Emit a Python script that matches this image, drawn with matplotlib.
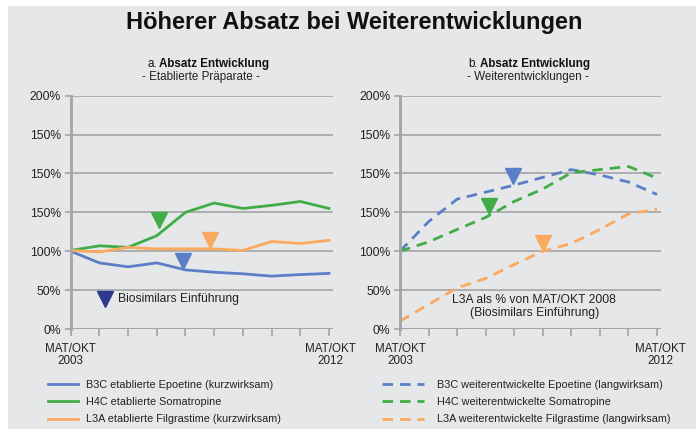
import numpy as np
import matplotlib
matplotlib.use("Agg")
import matplotlib.pyplot as plt
from matplotlib.patches import Rectangle

plt.rcParams['font.family'] = ['Liberation Sans', 'DejaVu Sans']

# ---- data (index 100 = start) ----
years = list(range(10))          # MAT/OKT 2003 .. 2012
ytick_vals = [0, 50, 100, 150, 200, 250, 300]
ytick_labels = ["0%", "50%", "100%", "150%", "150%", "150%", "200%"]

est_b3c = [100, 85, 80, 85, 76, 73, 71, 68, 70, 71.5]
est_h4c = [101, 107, 105, 120, 150, 162, 155, 159, 164, 155]
est_l3a = [101, 99, 105, 103, 103, 103, 101, 112.5, 110, 114]

new_b3c = [100, 138, 167, 176, 185, 195, 205, 198, 189, 173]
new_h4c = [100, 112, 128, 143.5, 164, 180, 201, 205, 209, 194]
new_l3a = [10, 31.5, 53, 65, 83, 100, 110, 128, 148, 154]

# biosimilar introduction markers (x, y)
mark_a = {"b3c": (3.9, 88), "h4c": (3.07, 140), "l3a": (4.87, 115)}
mark_b = {"b3c": (3.97, 197), "h4c": (3.11, 158), "l3a": (5.0, 111)}
legend_mark = (1.18, 39)

labels_a = ["B3C etablierte Epoetine (kurzwirksam)",
            "H4C etablierte Somatropine",
            "L3A etablierte Filgrastime (kurzwirksam)"]
labels_b = ["B3C weiterentwickelte Epoetine (langwirksam)",
            "H4C weiterentwickelte Somatropine",
            "L3A weiterentwickelte Filgrastime (langwirksam)"]

BLUE = "#5b7fc6"
GREEN = "#40ad48"
ORANGE = "#fba95e"
DARKBLUE = "#2e3a8f"
GRID = "#a3a4a6"
BG = "#e6e7e8"
TXT = "#222222"

W, H = 696, 429
fig = plt.figure(figsize=(W / 100, H / 100), dpi=100)
fig.patch.set_facecolor("white")
fig.patches.append(Rectangle((8 / W, 0), 1 - 8 / W, 1 - 6 / H, transform=fig.transFigure,
                             facecolor=BG, edgecolor="none", zorder=-10))

fig.text(354 / W, 1 - 22 / H, "Höherer Absatz bei Weiterentwicklungen",
         ha="center", va="center", fontsize=17, fontweight="bold", color="#111111")


def setup(ax):
    ax.set_facecolor("none")
    ax.set_xlim(0, 9.14)
    ax.set_ylim(0, 300)
    ax.set_yticks(ytick_vals)
    ax.set_yticklabels(ytick_labels)
    ax.set_xticks(years)
    ax.set_xticklabels([])
    for s in ["top", "right", "bottom"]:
        ax.spines[s].set_visible(False)
    ax.spines["left"].set_color(GRID)
    ax.spines["left"].set_linewidth(2)
    ax.grid(axis="y", color=GRID, linewidth=1.2)
    ax.set_axisbelow(True)
    ax.tick_params(axis="y", length=4, width=1.2, color=GRID, labelsize=8.7,
                   labelcolor=TXT, pad=3)
    ax.tick_params(axis="x", length=5, width=1.2, color=GRID, direction="out")
    ax.axhline(0, color=GRID, linewidth=1.2, zorder=0)


ax1 = fig.add_axes([70.7 / W, 1 - 329 / H, 262.3 / W, 233.3 / H])
ax2 = fig.add_axes([400 / W, 1 - 329 / H, 261 / W, 233.3 / H])
setup(ax1)
setup(ax2)

lw = 2.0
h1 = ax1.plot(years, est_b3c, color=BLUE, lw=lw)[0]
h2 = ax1.plot(years, est_h4c, color=GREEN, lw=lw)[0]
h3 = ax1.plot(years, est_l3a, color=ORANGE, lw=lw)[0]

dash = (0, (3.8, 2.5))
g1 = ax2.plot(years, new_b3c, color=BLUE, lw=lw, linestyle=dash)[0]
g2 = ax2.plot(years, new_h4c, color=GREEN, lw=lw, linestyle=dash)[0]
g3 = ax2.plot(years, new_l3a, color=ORANGE, lw=lw, linestyle=dash)[0]

ms = 11
for ax, marks in [(ax1, mark_a), (ax2, mark_b)]:
    for key, col in [("b3c", BLUE), ("h4c", GREEN), ("l3a", ORANGE)]:
        x, y = marks[key]
        ax.plot([x], [y], marker="v", markersize=ms, color=col, linestyle="none", zorder=5)

ax1.plot([legend_mark[0]], [legend_mark[1]], marker="v", markersize=ms, color=DARKBLUE,
         linestyle="none", zorder=5)
ax1.text(1.64, 39, "Biosimilars Einführung", va="center", ha="left", fontsize=8.7, color=TXT)
ax2.text(4.7, 29, "L3A als % von MAT/OKT 2008\n(Biosimilars Einführung)", va="center",
         ha="center", fontsize=8.7, color=TXT, linespacing=1.15)

# panel titles
for xb, main, sub, subx in [(159, "a.", "- Etablierte Präparate -", 201),
                            (480, "b.", "- Weiterentwicklungen -", 528)]:
    fig.text(xb / W, 1 - 64 / H, "Absatz Entwicklung", ha="left", va="center",
             fontsize=8.4, fontweight="bold", color="#111111")
    fig.text((xb - 2) / W, 1 - 64 / H, main, ha="right", va="center", fontsize=8.4,
             color="#111111")
    fig.text(subx / W, 1 - 77 / H, sub, ha="center", va="center", fontsize=8.4,
             color=TXT)

# x end labels
for xp, lab in [(70.5, "MAT/OKT\n2003"), (330, "MAT/OKT\n2012"),
                (400, "MAT/OKT\n2003"), (660, "MAT/OKT\n2012")]:
    fig.text(xp / W, 1 - 355 / H, lab, ha="center", va="center", fontsize=8.4,
             color=TXT, linespacing=1.1)

leg_kw = dict(frameon=False, fontsize=7.8, labelspacing=0.66, loc="upper left",
              borderaxespad=0, borderpad=0)
l1 = fig.legend([h1, h2, h3], labels_a, bbox_to_anchor=(48 / W, 1 - 380 / H),
                handlelength=2.8, handletextpad=0.75, **leg_kw)
l2 = fig.legend([g1, g2, g3], labels_b, bbox_to_anchor=(382 / W, 1 - 380 / H),
                handlelength=3.9, handletextpad=1.2, **leg_kw)
for leg in (l1, l2):
    for t in leg.get_texts():
        t.set_color(TXT)

fig.savefig("out.png", dpi=100)
